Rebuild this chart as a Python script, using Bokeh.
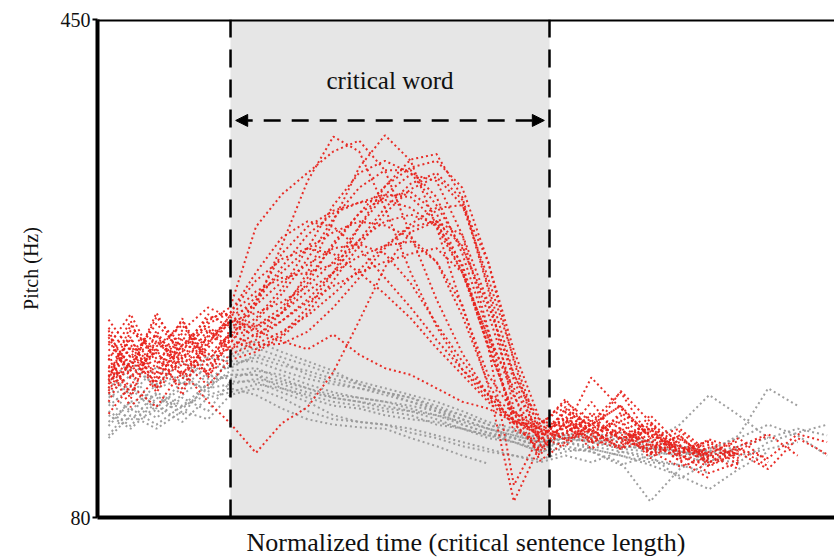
from bokeh.plotting import figure
from bokeh.models import Range1d, FixedTicker, Span, BoxAnnotation, Arrow, NormalHead, Label
from bokeh.embed import file_html
from bokeh.resources import INLINE

nan = float("nan")

# Normalized time grid (percent of critical sentence length shown)
time_pts = [1.5, 4.5, 8, 11.5, 15, 18, 21.5, 25, 28.5, 32, 35.5, 39, 42.5, 46,
            49.5, 53, 56.5, 60, 63.5, 67, 71, 75, 79, 83, 87, 91, 95, 99]

critical_start = 18.05
critical_end = 61.33
y_ticks = [80, 450]

# Pitch contours (Hz), red = focus condition
red_contours = [
    [188, 214, 176, 205, 222, 209, 238, 282, 330, 363, 352, 310, 262, 222, 190, 168, 152, 143, 158, 149, 163, 139, 146, 128, 137, nan, nan, nan],
    [201, 168, 219, 187, 206, 226, 214, 232, 262, 300, 340, 364, 345, 296, 236, 186, 158, 146, 141, 166, 137, 151, 132, 127, 139, 121, nan, nan],
    [179, 208, 191, 228, 184, 212, 205, 216, 236, 262, 296, 326, 346, 350, 318, 252, 186, 152, 147, 139, 156, 133, 144, 126, 131, 118, nan, nan],
    [214, 183, 205, 171, 219, 203, 226, 246, 272, 302, 325, 338, 338, 318, 276, 218, 170, 137, 161, 144, 152, 131, 139, 124, nan, nan, nan, nan],
    [166, 197, 224, 203, 231, 221, 222, 232, 254, 284, 306, 318, 322, 306, 266, 206, 158, 126, 151, 138, 131, 147, 129, 134, 119, nan, nan, nan],
    [193, 177, 211, 196, 178, 197, 203, 214, 232, 256, 282, 306, 324, 333, 312, 258, 198, 144, 139, 158, 146, 128, 141, 121, 133, 142, 126, nan],
    [221, 199, 186, 214, 201, 216, 208, 209, 218, 236, 258, 280, 298, 310, 312, 270, 196, 134, 149, 131, 144, 137, 122, 129, nan, nan, nan, nan],
    [182, 223, 198, 176, 209, 230, 238, 255, 268, 280, 283, 276, 254, 224, 196, 171, 152, 147, 168, 142, 151, 128, 136, nan, nan, nan, nan, nan],
    [205, 189, 232, 198, 226, 236, 296, 320, 336, 352, 360, 338, 290, 242, 202, 171, 152, 141, 154, 143, 135, 149, 128, 131, nan, nan, nan, nan],
    [157, 178, 162, 189, 166, 150, 128, 150, 162, 188, 226, 266, 292, 300, 282, 232, 172, 122, 136, 149, 142, 127, 133, 126, 116, nan, nan, nan],
    [227, 204, 216, 183, 211, 224, 244, 262, 280, 292, 300, 297, 288, 270, 238, 178, 92, 133, 143, 156, 137, 131, 141, 120, nan, nan, nan, nan],
    [172, 196, 181, 212, 193, 207, 216, 226, 242, 262, 286, 300, 305, 298, 268, 208, 104, 141, 153, 135, 147, 124, 138, 126, nan, nan, nan, nan],
    [208, 231, 194, 219, 236, 229, 219, 211, 205, 216, 201, 191, 186, 176, 166, 161, 151, 149, 166, 151, 173, 139, 131, 136, 122, nan, nan, nan],
    [185, 213, 176, 201, 188, 213, 241, 276, 296, 308, 314, 320, 318, 300, 262, 214, 176, 142, 146, 184, 161, 141, 133, 121, 129, nan, nan, nan],
    [198, 172, 207, 223, 196, 217, 228, 250, 280, 312, 336, 345, 336, 312, 280, 238, 186, 147, 149, 143, 174, 151, 127, 138, 131, 124, 142, 136],
    [176, 219, 202, 186, 215, 226, 222, 236, 258, 282, 306, 326, 340, 345, 325, 270, 204, 153, 137, 146, 131, 156, 134, 119, 128, 116, 139, 127],
    [192, 162, 184, 208, 224, 232, 262, 288, 300, 296, 280, 258, 236, 212, 190, 172, 158, 150, 162, 147, 139, 144, 126, nan, nan, nan, nan, nan],
    [216, 191, 229, 206, 186, 201, 209, 218, 230, 246, 264, 282, 296, 300, 290, 240, 182, 139, 133, 151, 139, 146, 124, 132, 127, nan, nan, nan],
    [184, 206, 173, 199, 214, 225, 232, 240, 252, 270, 296, 320, 335, 330, 290, 220, 150, 131, 144, 152, 139, 129, 118, 124, nan, nan, nan, nan],
    [211, 189, 203, 226, 197, 215, 220, 232, 248, 262, 274, 282, 285, 270, 230, 180, 145, 137, 159, 141, 133, 146, 127, 113, 121, nan, nan, nan],
    [174, 202, 188, 217, 209, 230, 248, 258, 262, 268, 286, 310, 328, 336, 316, 250, 160, 138, 147, 136, 158, 142, 131, 125, 130, 141, nan, nan],
    [219, 184, 211, 192, 220, 205, 212, 226, 240, 252, 262, 270, 276, 280, 262, 214, 150, 129, 152, 145, 131, 138, 122, 109, nan, nan, nan, nan],
    [197, 226, 181, 208, 228, 232, 256, 272, 280, 276, 262, 246, 228, 206, 186, 166, 150, 146, 138, 149, 163, 134, 129, 137, 124, nan, nan, nan],
    [181, 193, 215, 198, 187, 220, 240, 266, 290, 306, 314, 316, 310, 296, 262, 208, 156, 140, 155, 137, 145, 133, 126, 118, 129, nan, nan, nan],
]

# Pitch contours (Hz), gray = neutral condition
gray_contours = [
    [171, 186, 163, 176, 193, 191, 201, 196, 186, 181, 176, 173, 166, 161, 156, 149, 143, 136, 141, 136, 139, 133, 129, 126, 131, nan, nan, nan],
    [148, 166, 154, 169, 159, 181, 181, 173, 166, 156, 151, 149, 146, 141, 136, 131, 126, 123, 129, 131, 126, 121, 119, nan, nan, nan, nan, nan],
    [186, 171, 192, 179, 199, 196, 196, 189, 183, 179, 176, 171, 166, 159, 149, 143, 136, 131, 136, 139, 133, 131, 126, 121, nan, nan, nan, nan],
    [141, 161, 149, 163, 171, 176, 171, 161, 153, 149, 147, 146, 139, 133, 126, 120, nan, nan, nan, nan, nan, nan, nan, nan, nan, nan, nan, nan],
    [166, 152, 173, 163, 179, 186, 186, 181, 176, 169, 166, 161, 159, 153, 146, 141, 136, 129, 133, 129, 121, 92, 116, 128, 133, nan, nan, nan],
    [181, 196, 176, 183, 201, 199, 206, 199, 193, 186, 181, 176, 171, 166, 159, 151, 146, 139, 141, 143, 139, 136, 133, 129, 141, 176, 163, nan],
    [156, 146, 163, 151, 169, 173, 179, 176, 171, 166, 163, 159, 156, 149, 146, 141, 139, 133, 136, 133, 129, 126, 109, 121, 133, 139, 146, 141],
    [169, 179, 161, 181, 176, 189, 191, 183, 176, 171, 169, 166, 161, 156, 151, 146, 141, 136, 139, 141, 136, 131, 133, 129, 126, 131, 136, nan],
    [139, 156, 146, 159, 153, 171, 176, 169, 159, 153, 151, 149, 143, 139, 133, 129, 126, 121, 126, 121, 129, 123, 119, 113, nan, nan, nan, nan],
    [173, 159, 179, 186, 173, 201, 211, 203, 196, 189, 179, 173, 169, 163, 156, 149, 144, 139, 143, 139, 143, 136, 149, 171, 156, 139, nan, nan],
    [163, 176, 158, 171, 186, 183, 189, 186, 179, 173, 169, 166, 163, 159, 153, 146, 139, 133, 139, 136, 131, 129, 126, 131, 139, 149, 141, 126],
    [151, 166, 171, 156, 181, 186, 186, 176, 169, 163, 161, 156, 153, 151, 146, 139, 136, 129, 131, 129, 119, 126, 129, 123, 121, 136, 143, 149],
    [176, 191, 179, 196, 183, 193, 199, 193, 189, 183, 179, 173, 169, 161, 153, 146, 141, 136, 139, 136, 133, 131, 129, 126, nan, nan, nan, nan],
    [159, 148, 169, 161, 176, 179, 183, 179, 173, 169, 166, 163, 159, 156, 149, 143, 139, 133, 136, 131, 126, 119, 111, 101, 116, 129, nan, nan],
]

SERIF = "'Liberation Serif', 'Times New Roman', serif"

p = figure(width=834, height=559, x_range=Range1d(0, 100), y_range=Range1d(80, 450),
           output_backend="svg", toolbar_location=None,
           min_border_left=97, min_border_right=0, min_border_top=19, min_border_bottom=42)
p.outline_line_color = None
p.xgrid.grid_line_color = None
p.ygrid.grid_line_color = None
p.background_fill_color = "white"
p.border_fill_color = "white"

# shaded critical word region
p.add_layout(BoxAnnotation(left=critical_start, right=critical_end, fill_color="#e6e6e6",
                           fill_alpha=1.0, line_color=None, level="underlay"))

for c in gray_contours:
    p.line(time_pts, c, line_color="#9a9a9a", line_width=2, line_dash="2 3", line_alpha=0.95)
for c in red_contours:
    p.line(time_pts, c, line_color="#e8231c", line_width=2, line_dash="2 3", line_alpha=0.95)

for loc in (critical_start, critical_end):
    p.add_layout(Span(location=loc, dimension="height", line_color="black",
                      line_width=2.5, line_dash="18 12"))

p.add_layout(Span(location=450, dimension="width", line_color="black", line_width=4))

p.add_layout(Arrow(start=NormalHead(size=12, fill_color="black", line_color="black"),
                   end=NormalHead(size=12, fill_color="black", line_color="black"),
                   x_start=critical_start + 0.7, x_end=critical_end - 0.7,
                   y_start=375, y_end=375, line_color="black", line_width=2.5,
                   line_dash="17 11"))

p.add_layout(Label(x=(critical_start + critical_end) / 2, y=405, text="critical word",
                   text_align="center", text_baseline="middle", text_font=SERIF,
                   text_font_size="25px", text_color="#111111"))

# axes
p.xaxis.ticker = FixedTicker(ticks=[])
p.xaxis.axis_label = "Normalized time (critical sentence length)"
p.xaxis.axis_label_text_font = SERIF
p.xaxis.axis_label_text_font_style = "normal"
p.xaxis.axis_label_text_font_size = "26px"
p.xaxis.axis_label_text_color = "#111111"
p.xaxis.axis_label_standoff = 10
p.xaxis.axis_line_width = 4
p.xaxis.major_tick_line_color = None
p.xaxis.minor_tick_line_color = None
p.xaxis.major_label_text_font_size = "0px"

p.yaxis.ticker = FixedTicker(ticks=y_ticks)
p.yaxis.axis_label = "Pitch (Hz)"
p.yaxis.axis_label_text_font = SERIF
p.yaxis.axis_label_text_font_style = "normal"
p.yaxis.axis_label_text_font_size = "20px"
p.yaxis.axis_label_text_color = "#111111"
p.yaxis.axis_label_standoff = 16
p.yaxis.axis_line_width = 4
p.yaxis.major_tick_out = 5
p.yaxis.major_tick_in = 0
p.yaxis.major_tick_line_width = 2
p.yaxis.minor_tick_line_color = None
p.yaxis.major_label_standoff = 2
p.yaxis.major_label_text_font = SERIF
p.yaxis.major_label_text_font_size = "20px"
p.yaxis.major_label_text_color = "#111111"

open("out.html", "w").write(file_html(p, INLINE))
